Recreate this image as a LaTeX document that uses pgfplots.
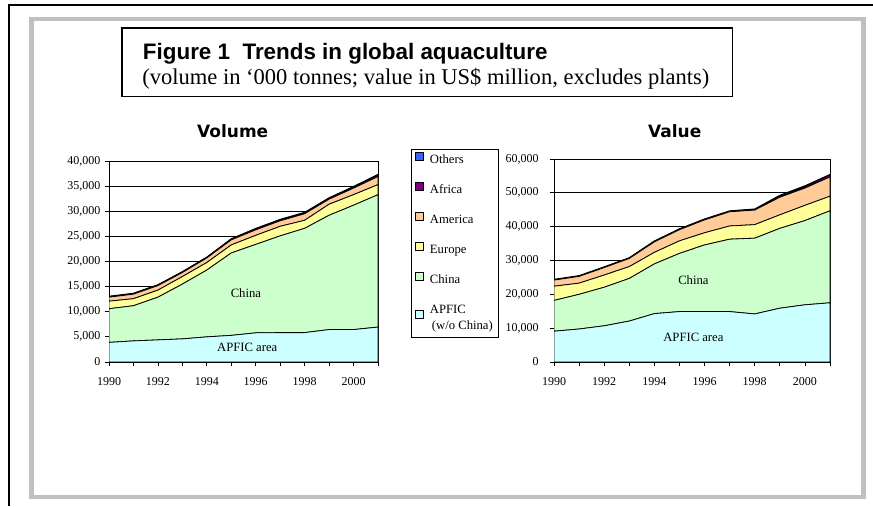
\documentclass[border=0pt]{standalone}
\usepackage{fontspec}
\setmainfont{Liberation Serif}
\newfontfamily\arialfont{Liberation Sans}
\newfontfamily\verdanafont{DejaVu Sans}
\usepackage{pgfplots}
\usepackage{pgfplotstable}
\pgfplotsset{compat=1.18}

\definecolor{cApfic}{HTML}{CCFFFF}
\definecolor{cChina}{HTML}{CCFFCC}
\definecolor{cEurope}{HTML}{FFFF99}
\definecolor{cAmerica}{HTML}{FFCC99}
\definecolor{cAfrica}{HTML}{800080}
\definecolor{cOthers}{HTML}{3366FF}
\definecolor{frameGray}{HTML}{C0C0C0}

% volume, '000 tonnes (layer values, stacked)
\pgfplotstableread{
year apfic china europe america africa others
1990 3900 6700 1500 800 100 100
1991 4200 7000 1400 900 100 100
1992 4400 8500 1400 900 100 100
1993 4600 10900 1500 800 100 100
1994 5000 13300 1500 900 100 100
1995 5300 16400 1600 1000 100 150
1996 5800 17600 1800 1100 150 150
1997 5850 19250 1900 1100 150 150
1998 5850 20750 1600 1300 150 150
1999 6450 22750 2200 1000 150 150
2000 6450 24750 2100 1300 200 150
2001 6950 26350 2000 1600 300 150
}\voltable

% value, US$ million
\pgfplotstableread{
year apfic china europe america africa others
1990 9100 9100 4200 1800 100 150
1991 9750 10250 3300 2000 100 150
1992 10700 11400 3600 2200 100 150
1993 12100 12600 3500 2400 100 150
1994 14300 14700 3400 3100 150 150
1995 14900 17200 3700 3300 150 150
1996 14900 19700 3600 3800 150 150
1997 14900 21400 3900 4200 150 150
1998 14200 22400 4000 4300 150 200
1999 15900 23600 4000 5200 200 400
2000 16900 24900 4500 5100 400 300
2001 17500 27200 4300 5700 600 150
}\valtable

\tikzset{inlabel/.style={font=\fontsize{9.5}{11}\selectfont, inner sep=0pt}}

\pgfplotsset{
  aqua/.style={
    scale only axis,
    stack plots=y,
    area style,
    axis on top=false,
    enlargelimits=false,
    xmin=1990, xmax=2001, ymin=0,
    xtick={1990,1992,...,2000},
    xticklabels={1990,1992,1994,1996,1998,2000},
    minor xtick={1991,1993,...,2001},
    tick pos=left,
    tick align=outside,
    major tick length=3pt,
    minor tick length=3pt,
    every tick/.style={black, line width=0.6pt},
    ymajorgrids,
    major grid style={black, line width=0.6pt},
    axis line style={black, line width=0.6pt},
    tick label style={font=\fontsize{9}{10}\selectfont},
    x tick label style={yshift=-5pt},
    /pgf/number format/assume math mode=true,
    /pgf/number format/1000 sep={,},
    scaled y ticks=false,
    every axis plot/.append style={draw=black, line width=0.6pt},
    legend image code/.code={\draw[#1, draw=black, line width=0.5pt] (0pt,0pt) rectangle (5.5pt,6pt);},
  },
}

\newcommand{\lgs}{\strut}

\begin{document}
\begin{tikzpicture}
\begin{scope}[x=0.75pt,y=0.75pt]
\useasboundingbox (0,0) rectangle (873,506);
\draw[line width=1.2pt] (873,500.7) -- (9,500.7) -- (9,0);
\draw[color=frameGray, line width=3.4pt] (31.5,8.8) rectangle (863.5,486.8);
\draw[line width=1.2pt] (121.7,409.3) rectangle (732.3,477.7);
\node[anchor=base west, inner sep=0, font=\arialfont\bfseries\fontsize{16.8}{18}\selectfont]
  at (142.7,446) {Figure 1\ \ Trends in global aquaculture};
\node[anchor=base west, inner sep=0, font=\fontsize{16.9}{18}\selectfont]
  at (142,421) {(volume in ‘000 tonnes; value in US\$ million, excludes plants)};
\node[anchor=base, inner sep=0, font=\verdanafont\bfseries\fontsize{12.75}{14}\selectfont]
  at (232.7,368.7) {Volume};
\node[anchor=base, inner sep=0, font=\verdanafont\bfseries\fontsize{12.75}{14}\selectfont]
  at (674.7,368.7) {Value};
\end{scope}

\begin{axis}[aqua,
  at={(81.75pt,108pt)}, anchor=south west,
  width=201.75pt, height=150.75pt,
  ymax=40000, ytick={0,5000,...,40000},
  extra description/.code={
    \node[inlabel] at (0.509,0.344) {China};
    \node[inlabel] at (0.514,0.075) {APFIC area};
  },
]
\addplot[fill=cApfic] table[x=year,y=apfic]{\voltable} \closedcycle;
\addplot[fill=cChina] table[x=year,y=china]{\voltable} \closedcycle;
\addplot[fill=cEurope] table[x=year,y=europe]{\voltable} \closedcycle;
\addplot[fill=cAmerica] table[x=year,y=america]{\voltable} \closedcycle;
\addplot[fill=cAfrica] table[x=year,y=africa]{\voltable} \closedcycle;
\addplot[fill=cOthers] table[x=year,y=others]{\voltable} \closedcycle;
\end{axis}

\begin{axis}[aqua,
  at={(415.5pt,108pt)}, anchor=south west,
  width=207pt, height=152.25pt,
  ymax=60000, ytick={0,10000,...,60000},
  y tick label style={xshift=-5pt},
  reverse legend,
  legend cell align=left,
  legend style={at={(-0.519,1.048)}, anchor=north west, draw=black, line width=0.8pt,
    fill=white, inner xsep=3pt, inner ysep=1.1pt, row sep=8.5pt, column sep=4pt,
    font=\fontsize{9.5}{12}\selectfont, nodes={inner sep=1pt, text depth=}},
  extra description/.code={
    \node[inlabel] at (0.505,0.404) {China};
    \node[inlabel] at (0.505,0.123) {APFIC area};
  },
]
\addplot[fill=cApfic] table[x=year,y=apfic]{\valtable} \closedcycle;
\addlegendentry{\begin{tabular}[t]{@{}l@{}}APFIC\\\hspace{1.5pt}(w/o China)\end{tabular}}
\addplot[fill=cChina] table[x=year,y=china]{\valtable} \closedcycle;
\addlegendentry{\lgs China}
\addplot[fill=cEurope] table[x=year,y=europe]{\valtable} \closedcycle;
\addlegendentry{\lgs Europe}
\addplot[fill=cAmerica] table[x=year,y=america]{\valtable} \closedcycle;
\addlegendentry{\lgs America}
\addplot[fill=cAfrica] table[x=year,y=africa]{\valtable} \closedcycle;
\addlegendentry{\lgs Africa}
\addplot[fill=cOthers] table[x=year,y=others]{\valtable} \closedcycle;
\addlegendentry{\lgs Others}
\end{axis}
\end{tikzpicture}
\end{document}
